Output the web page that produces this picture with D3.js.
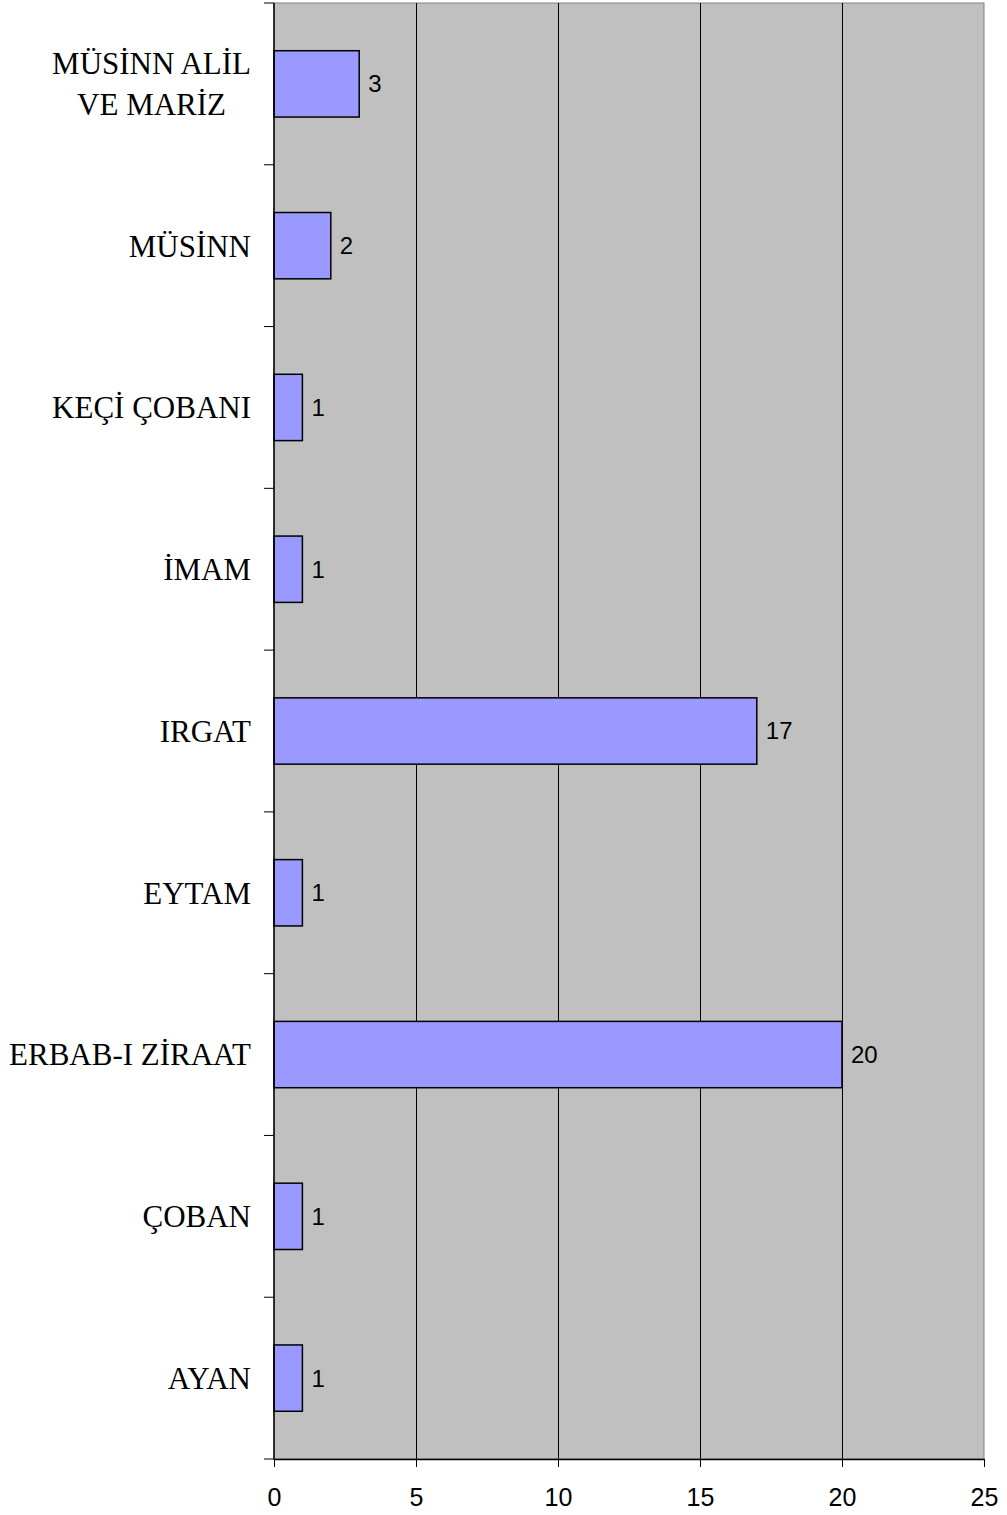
<!DOCTYPE html>
<html>
<head>
<meta charset="utf-8">
<script src="https://cdn.jsdelivr.net/npm/d3@7"></script>
<style>
  body { margin: 0; background: #fff; }
  svg { display: block; }
</style>
</head>
<body>
<svg id="chart" width="1007" height="1515"></svg>
<script>
// categories top to bottom
var categories = ["MÜSİNN ALİL\nVE MARİZ", "MÜSİNN", "KEÇİ ÇOBANI", "İMAM", "IRGAT", "EYTAM", "ERBAB-I ZİRAAT", "ÇOBAN", "AYAN"];
var counts = [3, 2, 1, 1, 17, 1, 20, 1, 1];
var xTicks = [0, 5, 10, 15, 20, 25];

var margin = {top: 3, right: 23, bottom: 56, left: 274},
    width = 1007 - margin.left - margin.right,
    height = 1515 - margin.top - margin.bottom;

var svg = d3.select("#chart");
var g = svg.append("g").attr("transform", "translate(" + margin.left + "," + margin.top + ")");

var x = d3.scaleLinear().domain([0, 25]).range([0, width]);
var y = d3.scaleBand().domain(categories).range([0, height])
          .paddingInner(0.59).paddingOuter(0.295);

// plot background
g.append("rect")
  .attr("width", width).attr("height", height)
  .attr("fill", "#c0c0c0")
  .attr("stroke", "#808080").attr("stroke-width", 1);

// vertical grid
g.append("g")
  .selectAll("line")
  .data(xTicks.slice(1, -1))
  .enter().append("line")
    .attr("x1", function(d) { return Math.round(x(d)) + 0.5; })
    .attr("x2", function(d) { return Math.round(x(d)) + 0.5; })
    .attr("y1", 0).attr("y2", height)
    .attr("stroke", "#000").attr("stroke-width", 1);

// bars
g.selectAll(".bar")
  .data(counts)
  .enter().append("rect")
    .attr("class", "bar")
    .attr("x", 0)
    .attr("y", function(d, i) { return y(categories[i]); })
    .attr("width", function(d) { return x(d); })
    .attr("height", y.bandwidth())
    .attr("fill", "#9999ff")
    .attr("stroke", "#000").attr("stroke-width", 1.5);

// value labels
g.selectAll(".val")
  .data(counts)
  .enter().append("text")
    .attr("class", "val")
    .attr("x", function(d) { return x(d) + 9; })
    .attr("y", function(d, i) { return y(categories[i]) + y.bandwidth() / 2; })
    .attr("dy", "0.35em")
    .style("font-family", "'Liberation Sans', Arial, sans-serif")
    .style("font-size", "24px")
    .attr("fill", "#000")
    .text(function(d) { return d; });

// x axis
var xAxis = g.append("g")
  .attr("transform", "translate(0," + height + ")")
  .call(d3.axisBottom(x).tickValues(xTicks).tickSize(8).tickPadding(21).tickSizeOuter(0));
xAxis.select(".domain").attr("stroke", "#000").attr("stroke-width", 1.5);
xAxis.selectAll("text")
  .style("font-family", "'Liberation Sans', Arial, sans-serif")
  .style("font-size", "25px")
  .attr("fill", "#000");

// y axis: ticks at band boundaries
var step = y.step();
var bounds = d3.range(categories.length + 1).map(function(i) { return i * step; });
g.append("line")
  .attr("x1", 0).attr("x2", 0).attr("y1", 0).attr("y2", height + 0.5)
  .attr("stroke", "#000").attr("stroke-width", 1.5);
g.append("g").selectAll("line")
  .data(bounds)
  .enter().append("line")
    .attr("x1", -10).attr("x2", 0)
    .attr("y1", function(d) { return d; }).attr("y2", function(d) { return d; })
    .attr("stroke", "#000").attr("stroke-width", 1);

// category labels (centred lines, right aligned block)
var labelRight = -23;
categories.forEach(function(c) {
  var lines = c.split("\n");
  var cy = y(c) + y.bandwidth() / 2;
  var lh = 41;
  var t = g.append("text")
    .style("font-family", "'Liberation Serif', 'Times New Roman', serif")
    .style("font-size", "31px")
    .attr("fill", "#000");
  lines.forEach(function(l, i) {
    t.append("tspan")
      .attr("y", cy + (i - (lines.length - 1) / 2) * lh)
      .attr("dy", "0.35em")
      .text(l);
  });
  var w = d3.max(t.selectAll("tspan").nodes(), function(n) { return n.getComputedTextLength(); });
  t.attr("text-anchor", "middle");
  t.selectAll("tspan").attr("x", labelRight - w / 2);
});
</script>
</body>
</html>
